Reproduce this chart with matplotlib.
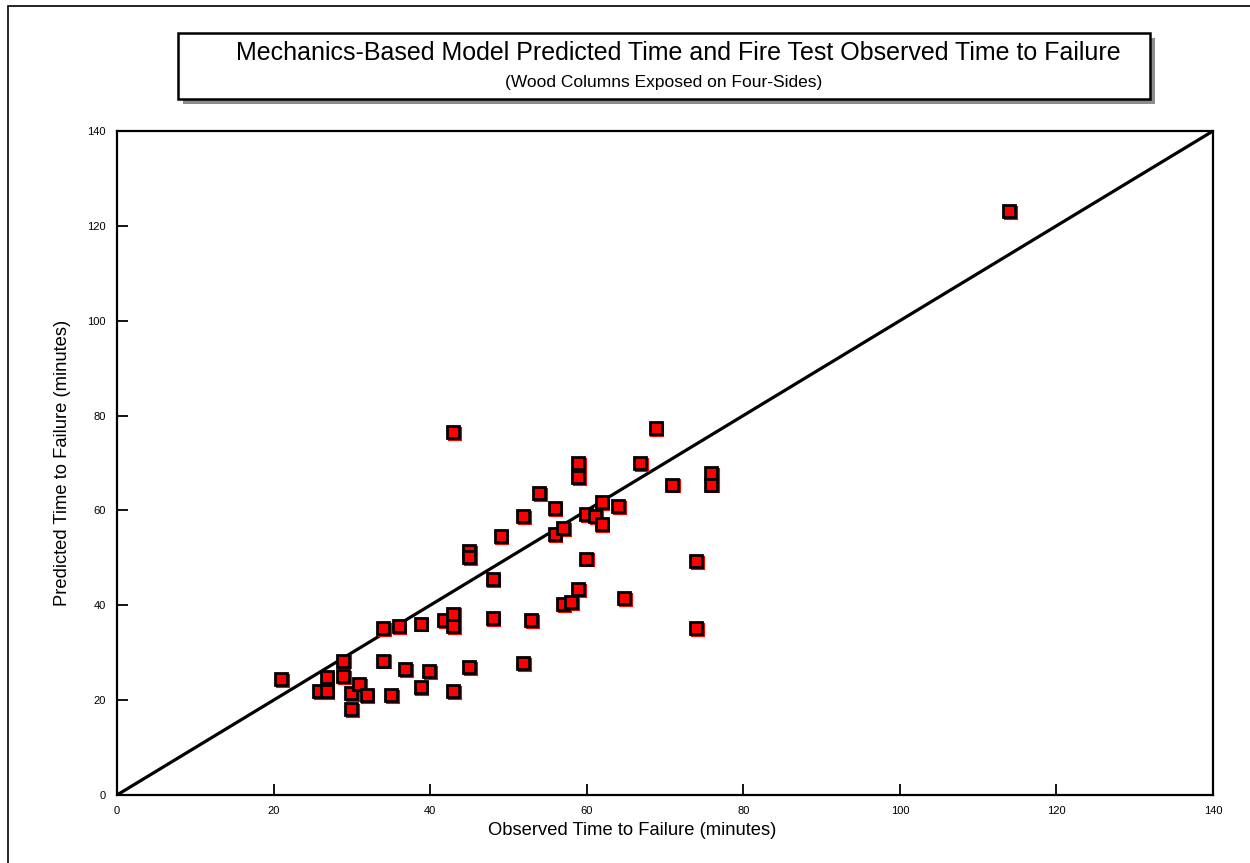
import matplotlib
matplotlib.use("Agg")
import matplotlib.pyplot as plt
import matplotlib.transforms as mtransforms
from matplotlib.patches import Rectangle

plt.rcParams['font.family'] = ['Liberation Sans', 'DejaVu Sans']

# Observed vs predicted time to failure (minutes)
observed = [114, 21, 25.8, 26.8, 26.8, 28.9, 28.9, 29.9, 29.9, 30.9,
            31.9, 34, 34, 35, 36, 36.8, 38.8, 38.8, 39.9, 41.8,
            42.9, 42.9, 42.9, 42.9, 45, 45, 45, 48, 48, 49,
            51.9, 51.9, 52.9, 53.9, 55.9, 55.9, 57, 57, 58, 58.9,
            58.9, 58.9, 59.9, 59.9, 61.1, 61.9, 61.9, 64, 64.8, 66.8,
            68.8, 70.9, 74, 74, 75.9, 75.9]
predicted = [123.1, 24.4, 21.9, 21.9, 24.9, 28.3, 25.1, 21.5, 18.1, 23.4,
             21.1, 35.2, 28.3, 21.1, 35.6, 26.6, 36.1, 22.8, 26.1, 36.9,
             76.5, 38.2, 35.6, 21.9, 51.4, 50.2, 27.0, 45.5, 37.3, 54.6,
             58.8, 27.8, 36.9, 63.7, 60.5, 55.0, 56.3, 40.3, 40.7, 70.0,
             67.0, 43.4, 59.2, 49.8, 58.8, 61.8, 57.1, 60.9, 41.5, 70.0,
             77.4, 65.4, 49.3, 35.2, 67.9, 65.4]
ref_line = [0, 140]
ticks = [0, 20, 40, 60, 80, 100, 120, 140]

fig = plt.figure(figsize=(12.5, 8.63), dpi=100)

# outer frame (only top and left edges are visible in the picture)
fig.add_artist(Rectangle((8 / 1250, -0.1), 1.2, 0.1 + (863 - 6) / 863,
                         transform=fig.transFigure, fill=False,
                         edgecolor='black', linewidth=1.2))

ax = fig.add_axes([117 / 1250, 68 / 863, 1096 / 1250, 664 / 863])

# 1:1 line
ax.plot(ref_line, ref_line, color='black', linewidth=2.3, zorder=2)

# red shadow behind each marker, then the marker itself
shadow = mtransforms.offset_copy(ax.transData, fig=fig, x=1.2, y=-1.2, units='points')
ax.plot(observed, predicted, 's', markersize=8, markerfacecolor='red',
        markeredgecolor='red', markeredgewidth=1.5, transform=shadow, zorder=3)
ax.plot(observed, predicted, 's', markersize=8, markerfacecolor='red',
        markeredgecolor='black', markeredgewidth=2, zorder=4)

ax.set_xlim(0, 140)
ax.set_ylim(0, 140)
ax.set_xticks(ticks)
ax.set_yticks(ticks)
ax.tick_params(direction='in', length=8, width=1.3, labelsize=8, pad=8)
for s in ax.spines.values():
    s.set_linewidth(1.6)

ax.set_xlabel('Observed Time to Failure (minutes)', fontsize=13.2)
ax.xaxis.set_label_coords(0.47, -0.041)
ax.set_ylabel('Predicted Time to Failure (minutes)', fontsize=13.2, labelpad=12)

# title box with drop shadow
fig.add_artist(Rectangle((183 / 1250, (863 - 104) / 863), 972 / 1250, 66 / 863,
                         transform=fig.transFigure, facecolor='#8c8c8c',
                         edgecolor='none'))
fig.add_artist(Rectangle((178 / 1250, (863 - 99) / 863), 972 / 1250, 66 / 863,
                         transform=fig.transFigure, facecolor='white',
                         edgecolor='black', linewidth=1.8))
fig.text(678 / 1250, (863 - 53) / 863,
         'Mechanics-Based Model Predicted Time and Fire Test Observed Time to Failure',
         ha='center', va='center', fontsize=18)
fig.text(664 / 1250, (863 - 82) / 863, '(Wood Columns Exposed on Four-Sides)',
         ha='center', va='center', fontsize=12.5)

fig.savefig('out.png', dpi=100)
